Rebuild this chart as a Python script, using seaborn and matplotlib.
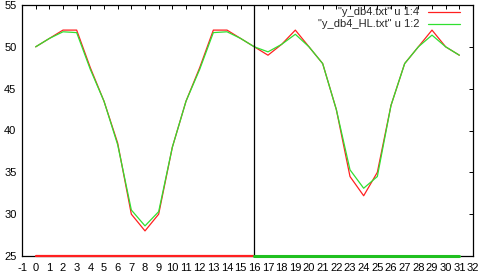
import pandas as pd
import matplotlib
matplotlib.use("Agg")
import matplotlib.pyplot as plt
import seaborn as sns

# x positions (row index in the data files)
x = list(range(32))

# "y_db4.txt" u 1:4
y_db4 = [50, 51, 52, 52, 47.5, 43.5, 38.5, 30, 28, 30, 38, 43.5, 47.5, 52, 52, 51,
         50, 49, 50.3, 52, 50, 48, 42.5, 34.5, 32.2, 35, 43, 48, 50, 52, 50, 49]
# "y_db4_HL.txt" u 1:2
y_db4_hl = [50, 51, 51.8, 51.7, 47.3, 43.5, 38.3, 30.5, 28.6, 30.3, 38, 43.5, 47.3, 51.7, 51.8, 51,
            50, 49.4, 50.3, 51.5, 50, 48, 42.5, 35.3, 33.1, 34.5, 43, 48, 50, 51.4, 50, 49]

# flat rows sitting on the bottom border
base_red_x = [0, 16]
base_red_y = [25, 25]
base_green_x = [16, 31]
base_green_y = [25, 25]

label_red = '"y_db4.txt" u 1:4'
label_green = '"y_db4_HL.txt" u 1:2'

df = pd.concat([
    pd.DataFrame({"x": x, "y": y_db4, "series": label_red}),
    pd.DataFrame({"x": x, "y": y_db4_hl, "series": label_green}),
])

sns.set_style("white")
plt.rcParams["font.family"] = ["Liberation Sans", "DejaVu Sans"]
plt.rcParams["axes.unicode_minus"] = False

fig = plt.figure(figsize=(4.8, 2.75), dpi=100)
ax = fig.add_axes([22 / 480, 1 - 256 / 275, 451 / 480, 251 / 275])

palette = {label_red: "#ff2020", label_green: "#30e030"}
sns.lineplot(data=df, x="x", y="y", hue="series", palette=palette,
             linewidth=0.9, ax=ax, legend=False)
ax.plot(base_red_x, base_red_y, color="#ff2020", lw=1.6, clip_on=False, zorder=3)
ax.plot(base_green_x, base_green_y, color="#20c020", lw=2.2, clip_on=False, zorder=3)

ax.axvline(16, color="black", lw=0.9)

ax.set_xlim(-1, 32)
ax.set_ylim(25, 55)
ax.set_xticks(range(-1, 33))
ax.set_yticks(range(25, 56, 5))
ax.set_xlabel("")
ax.set_ylabel("")
ax.tick_params(direction="in", length=3, width=0.7, labelsize=8, colors="black",
               top=True, right=True)
ax.tick_params(axis="x", pad=5)
ax.tick_params(axis="y", pad=4)
for s in ax.spines.values():
    s.set_color("black")
    s.set_linewidth(0.9)

# gnuplot-style key: right-aligned text with sample line to its right
for i, (lab, col) in enumerate([(label_red, "#ff2020"), (label_green, "#30e030")]):
    ty = 12 + i * 12
    fig.text(419 / 480, 1 - ty / 275, lab, ha="right", va="center", fontsize=8)
    fig.add_artist(plt.Line2D([428 / 480, 460 / 480], [1 - ty / 275, 1 - ty / 275],
                              color=col, lw=0.9, transform=fig.transFigure))

fig.savefig("out.png", dpi=100)
